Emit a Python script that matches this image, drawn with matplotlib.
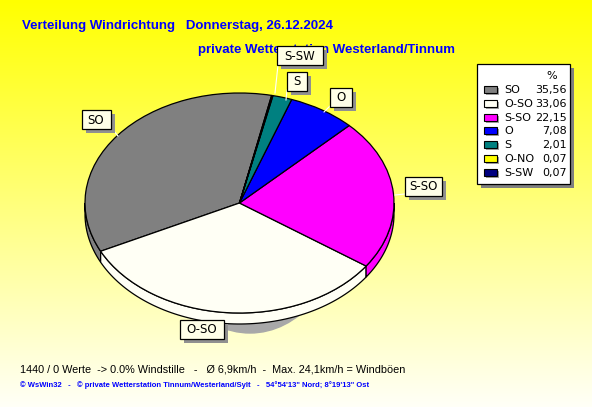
import numpy as np
import matplotlib.pyplot as plt
from matplotlib.patches import Polygon, Rectangle, Ellipse

# data
directions = ['SO', 'O-SO', 'S-SO', 'O', 'S', 'O-NO', 'S-SW']
percent = [35.56, 33.06, 22.15, 7.08, 2.01, 0.07, 0.07]
percent_labels = ['35,56', '33,06', '22,15', '7,08', '2,01', '0,07', '0,07']
colors = ['#808080', '#FFFFF5', '#FF00FF', '#0000FF', '#008080', '#FFFF00', '#000080']

title1 = 'Verteilung Windrichtung   Donnerstag, 26.12.2024'
title2 = 'private Wetterstation Westerland/Tinnum'
info = '1440 / 0 Werte  -> 0.0% Windstille   -   \u00d8 6,9km/h  -  Max. 24,1km/h = Windb\u00f6en'
credit = '\u00a9 WsWin32   -   \u00a9 private Wetterstation Tinnum/Westerland/Sylt   -   54\u00b054\'13" Nord; 8\u00b019\'13" Ost'

W, H = 592, 407
cx, cy, rx, ry = 239.5, 203, 154.5, 110
depth = 11 / ry
start = 78

fig = plt.figure(figsize=(W / 100, H / 100), dpi=100)

# background gradient
bg = fig.add_axes([0, 0, 1, 1], zorder=0)
grad = np.linspace(0, 1, 256)
img = np.ones((256, 1, 3))
img[:, 0, 2] = 0.97 * grad
bg.imshow(img, aspect='auto', extent=(0, W, H, 0))
bg.set_xlim(0, W)
bg.set_ylim(H, 0)
bg.axis('off')

# pie axes: unit circle -> ellipse in pixels
pa = fig.add_axes([0, 0, 1, 1], zorder=1)
pa.patch.set_alpha(0)

# shadow
pa.add_patch(Ellipse(((250 - cx) / rx, -20 / ry), 180 / rx, 2, color='#a8a8a8', zorder=1))

# side of the pie
angle = start
for v, c in zip(percent, colors):
    a1 = angle
    a2 = angle + v * 3.6
    angle = a2
    for off in (0, 360):
        s = max(a1, 180 + off)
        e = min(a2, 360 + off)
        if e <= s:
            continue
        t = np.radians(np.linspace(s, e, 80))
        top = np.column_stack([np.cos(t), np.sin(t)])
        bot = np.column_stack([np.cos(t[::-1]), np.sin(t[::-1]) - depth])
        pa.add_patch(Polygon(np.vstack([top, bot]), closed=True, facecolor=c,
                             edgecolor='black', lw=0.9, zorder=2))

wedges, _ = pa.pie(percent, colors=colors, startangle=start, counterclock=True,
                   radius=1, wedgeprops=dict(edgecolor='black', linewidth=0.9))
for w in wedges:
    w.set_zorder(3)
pa.set_aspect('auto')
pa.set_xlim((0 - cx) / rx, (W - cx) / rx)
pa.set_ylim((cy - H) / ry, (cy - 0) / ry)
pa.axis('off')

# overlay in pixel coordinates
ov = fig.add_axes([0, 0, 1, 1], zorder=2)
ov.patch.set_alpha(0)
ov.set_xlim(0, W)
ov.set_ylim(H, 0)
ov.axis('off')

ov.text(22, 26, title1, color='#0000FF', fontsize=9.5, fontweight='bold',
        family='Liberation Sans', va='center', zorder=1)
ov.text(326, 49.5, title2, color='#0000FF', fontsize=9.5, fontweight='bold',
        family='Liberation Sans', va='center', ha='center', zorder=1)

# leader lines
leaders = [((113, 130), (118, 136)), ((330, 106), (324, 112)), ((287, 90), (286, 100)),
           ((278, 65), (275, 93)), ((405, 194), (395, 195))]
for (x1, y1), (x2, y2) in leaders:
    ov.plot([x1, x2], [y1, y2], color='white', lw=0.8, zorder=3)

# label boxes
boxes = {'SO': (96, 119.5, 29), 'S-SO': (423, 186, 37), 'O-SO': (202, 329, 44),
         'O': (341, 97, 22), 'S': (297, 81, 20), 'S-SW': (300, 55.5, 46)}
for name, (bx, by, bw) in boxes.items():
    bh = 19
    ov.add_patch(Rectangle((bx - bw / 2 + 4, by - bh / 2 + 4), bw, bh,
                           facecolor='#909090', edgecolor='none', zorder=4))
    ov.add_patch(Rectangle((bx - bw / 2, by - bh / 2), bw, bh,
                           facecolor='#FFFFE8', edgecolor='black', lw=0.9, zorder=5))
    ov.text(bx, by + 0.5, name, fontsize=8.5, ha='center', va='center', zorder=6)

# legend
lx, ly, lw_, lh = 477, 64, 93, 120
ov.add_patch(Rectangle((lx + 4, ly + 4), lw_, lh, facecolor='#808080', edgecolor='none', zorder=4))
ov.add_patch(Rectangle((lx, ly), lw_, lh, facecolor='white', edgecolor='black', lw=0.9, zorder=5))
ov.text(552, 76, '%', fontsize=8, ha='center', va='center', zorder=6)
for i, (name, c, p) in enumerate(zip(directions, colors, percent_labels)):
    yy = 90 + i * 13.8
    ov.add_patch(Rectangle((486, yy - 2), 13, 7, facecolor='#a0a0a0', edgecolor='none', zorder=6))
    ov.add_patch(Rectangle((484, yy - 4), 13, 7, facecolor=c, edgecolor='black', lw=0.8, zorder=7))
    ov.text(504, yy, name, fontsize=8, va='center', zorder=7)
    ov.text(567, yy, p, fontsize=8, va='center', ha='right', zorder=7)

ov.text(20, 369, info, fontsize=7.8, family='Liberation Sans', va='center')
ov.text(20, 385, credit, fontsize=5.5, fontweight='bold', family='Liberation Sans',
        color='#0000FF', va='center')

fig.savefig('out.png', dpi=100)
